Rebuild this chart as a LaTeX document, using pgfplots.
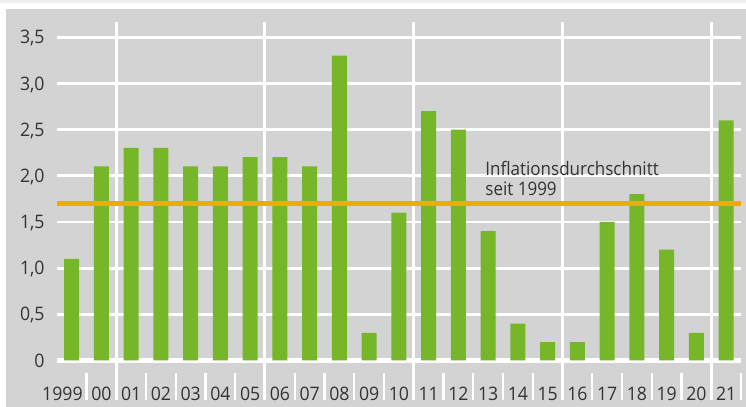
\documentclass[border=0pt]{standalone}
\usepackage{pgfplots}
\pgfplotsset{compat=1.18}
\usepackage{fontspec}
\setmainfont{Open Sans}
\newfontfamily\annfont[FakeStretch=0.915]{Open Sans}
\newfontfamily\tickfont[FakeStretch=0.95]{Open Sans}
\definecolor{panel}{HTML}{D3D3D3}
\definecolor{strip}{HTML}{EEEEEE}
\definecolor{barg}{HTML}{76B72A}
\definecolor{orng}{HTML}{F2A900}
\definecolor{txt}{HTML}{333333}
\newcommand{\lf}{\tickfont\fontsize{9.3}{11}\selectfont}
\newcommand{\af}{\annfont\fontsize{9.3}{11}\selectfont}
\begin{document}
\begin{tikzpicture}[x=1pt,y=1pt]
\useasboundingbox (0,0) rectangle (373,203.5);
\fill[white] (0,0) rectangle (373,203.5);
\fill[strip] (0,202.15) rectangle (373,203.5);
\fill[panel] (3,0) rectangle (373,199);
\begin{axis}[
  at={(28.375pt,3.25pt)}, anchor=south west,
  scale only axis, width=342.125pt, height=189.4pt,
  xmin=-0.5, xmax=22.5, ymin=-0.433, ymax=3.667,
  axis line style={draw=none},
  ymajorgrids,
  major grid style={white, line width=1.4pt},
  ytick={0,0.5,...,3.5},
  yticklabels={0,{0,5},{1,0},{1,5},{2,0},{2,5},{3,0},{3,5}},
  xtick={0,...,22},
  xticklabels={1999\kern9.2pt,00,01,02,03,04,05,06,07,08,09,10,11,12,13,14,15,16,17,18,19,20,21},
  xtick pos=bottom, ytick pos=left,
  major tick length=0pt,
  minor xtick={0.5,1.5,...,22.5},
  minor tick length=13.75pt,
  tick align=inside,
  minor tick style={white, line width=1.1pt},
  extra x ticks={1.5,6.5,11.5,16.5,21.5},
  extra x tick labels={},
  extra x tick style={grid=major, major grid style={white, line width=1.5pt}},
  extra y ticks={0},
  extra y tick labels={},
  extra y tick style={grid=major, major grid style={white, line width=2.2pt}},
  xticklabel style={anchor=base, inner sep=0pt, font=\lf, text=txt},
  yticklabel style={anchor=base east, inner sep=0pt, xshift=-5.9pt, yshift=-3.35pt, font=\lf, text=txt},
]
\addplot[ybar, bar width=7.5pt, fill=barg, draw=none] coordinates {
(0,1.1) (1,2.1) (2,2.3) (3,2.3) (4,2.1) (5,2.1) (6,2.2) (7,2.2) (8,2.1) (9,3.3)
(10,0.3) (11,1.6) (12,2.7) (13,2.5) (14,1.4) (15,0.4) (16,0.2) (17,0.2) (18,1.5)
(19,1.8) (20,1.2) (21,0.3) (22,2.6)};
\addplot[orng, line width=2.35pt, no marks] coordinates {(-0.5,1.7) (22.5,1.7)};
\node[anchor=base west, inner sep=0pt, font=\af, text=txt] at (axis cs:13.895,1.997) {Inflationsdurchschnitt};
\node[anchor=base west, inner sep=0pt, font=\af, text=txt] at (axis cs:13.895,1.784) {seit 1999};
\end{axis}
\end{tikzpicture}
\end{document}
